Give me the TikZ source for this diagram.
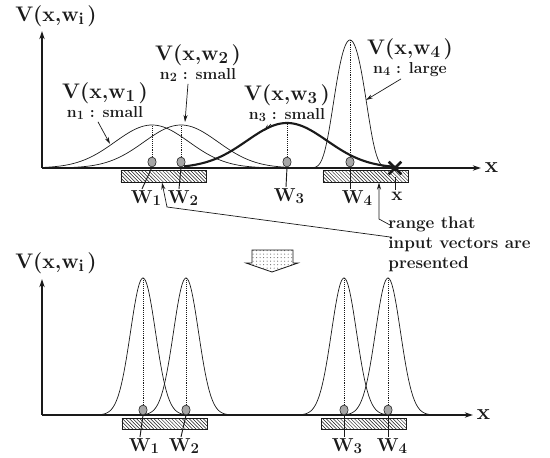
\documentclass[tikz,border=0pt]{standalone}
\usepackage{graphicx}
\usepackage{tikz}
\usetikzlibrary{shapes.geometric, shapes.misc, arrows.meta, positioning, patterns, calc}
\definecolor{inkblack}{HTML}{1a1a1a}
\definecolor{dotgray}{HTML}{a6a6a6}
\definecolor{arrowdots}{HTML}{6e6e6e}
\newcommand{\lowsub}[1]{\raisebox{-0.3ex}{\scalebox{0.8}{#1}}}
\tikzstyle{vlabel} = [font=\fontsize{18}{20}\selectfont\bfseries, text=inkblack, inner sep=1pt]
\tikzstyle{nlabel} = [font=\fontsize{13.5}{15}\selectfont\bfseries, text=inkblack, inner sep=1pt]
\tikzstyle{wlabel} = [font=\fontsize{16}{18}\selectfont\bfseries, text=inkblack, inner sep=1pt]
\tikzstyle{xlabel} = [font=\fontsize{19}{21}\selectfont\bfseries, text=inkblack, inner sep=1pt]
\tikzstyle{rlabel} = [font=\fontsize{14.5}{17}\selectfont\bfseries, text=inkblack, inner sep=1pt, align=left]
\tikzstyle{plotaxis} = [draw=inkblack, line width=1.1pt, -{Stealth[length=7pt, width=4.5pt]}]
\tikzstyle{thincurve} = [draw=inkblack, line width=0.6pt, smooth, samples=90]
\tikzstyle{boldcurve} = [draw=inkblack, line width=1.8pt, smooth, samples=90]
\tikzstyle{wdot} = [ellipse, draw=inkblack, fill=dotgray, minimum width=0.25cm, minimum height=0.3cm,
  inner sep=0pt, line width=0.5pt]
\tikzstyle{peakline} = [draw=inkblack, densely dotted, line width=0.6pt]
\tikzstyle{hatchbox} = [rectangle, draw=inkblack, pattern=north west lines, pattern color=inkblack,
  minimum width=2.55cm, minimum height=0.34cm, inner sep=0pt, line width=0.7pt]
\tikzstyle{crossmark} = [cross out, draw=inkblack, line width=2.2pt, minimum size=0.3cm, inner sep=0pt]
\tikzstyle{arrow} = [draw=inkblack, line width=0.6pt, -{Stealth[length=6pt, width=3.5pt]}]
\tikzstyle{tick} = [draw=inkblack, line width=0.8pt]
\tikzstyle{blockarrow} = [draw=inkblack, line width=0.7pt, pattern=dots, pattern color=arrowdots]

\begin{document}
\begin{tikzpicture}[x=0.03cm, y=-0.03cm]
  \useasboundingbox (0,0) rectangle (550,458);

  % === TOP PANEL: AXES ===
  \coordinate (o1) at (42,168);
  \coordinate (ytop1) at (42,31);
  \coordinate (xend1) at (481,168);
  \draw[plotaxis] (o1) -- (ytop1);
  \draw[plotaxis] (o1) -- (xend1);
  \node (vi1) [vlabel] at (56,16) {V(x,w\lowsub{i}\,)};
  \node (xa1) [xlabel, right=2pt of xend1] {x};

  % === TOP PANEL: CURVES ===
  \draw[thincurve] plot[domain=45:290] (\x,{168-43*exp(-0.5*(abs(\x-152)/37)^2)});
  \draw[thincurve] plot[domain=60:310] (\x,{168-43*exp(-0.5*(abs(\x-181)/37)^2)});
  \draw[boldcurve] plot[domain=184:396] (\x,{168-45*exp(-0.5*(abs(\x-287)/40)^2)});
  \draw[thincurve] plot[domain=300:400] (\x,{168-128*exp(-0.5*(abs(\x-350)/16)^2-(abs(\x-350)/27)^4)});

  % === TOP PANEL: WEIGHTS ===
  \coordinate (p1) at (152,125);
  \coordinate (p2) at (181,125);
  \coordinate (p3) at (287,123);
  \coordinate (p4) at (350,40);
  \node (d1) [wdot] at (152,162) {};
  \node (d2) [wdot] at (181,162) {};
  \node (d3) [wdot] at (287,162) {};
  \node (d4) [wdot] at (350,162) {};
  \draw[peakline] (d1.north) -- (p1);
  \draw[peakline] (d2.north) -- (p2);
  \draw[peakline] (d3.north) -- (p3);
  \draw[peakline] (d4.north) -- (p4);
  \node (xin) [crossmark] at (395,168) {};

  % === TOP PANEL: INPUT RANGES ===
  \node (r1) [hatchbox] at (163.5,176.5) {};
  \node (r2) [hatchbox] at (365.5,176.5) {};

  % === TOP PANEL: WEIGHT LABELS ===
  \node (lw1) [wlabel] at (146,198) {W\lowsub{1}};
  \node (lw2) [wlabel] at (183,198) {W\lowsub{2}};
  \node (lw3) [wlabel] at (289,196) {W\lowsub{3}};
  \node (lw4) [wlabel] at (357,198) {W\lowsub{4}};
  \node (lx) [wlabel] at (397,196) {x};
  \draw[tick] (d1.south) -- ($(lw1.north)+(-4,0)$);
  \draw[tick] (d2.south) -- ($(lw2.north)+(-4,0)$);
  \draw[tick] (d3.south) -- ($(lw3.north)+(-3,0)$);
  \draw[tick] (d4.south) -- ($(lw4.north)+(-7,0)$);
  \draw[tick] ($(xin.south)+(0,3)$) -- ($(lx.north)+(-2,0)$);

  % === TOP PANEL: CURVE LABELS ===
  \node (v1) [vlabel] at (105,93) {V(x,w\lowsub{1}\,)};
  \node (n1) [nlabel, below=0pt of v1] {n\lowsub{1} : small};
  \node (v2) [vlabel] at (198,55) {V(x,w\lowsub{2}\,)};
  \node (n2) [nlabel, below=0pt of v2] {n\lowsub{2} : small};
  \node (v3) [vlabel] at (287,95) {V(x,w\lowsub{3}\,)};
  \node (n3) [nlabel, below=0pt of v3] {n\lowsub{3} : small};
  \node (v4) [vlabel] at (410,49) {V(x,w\lowsub{4}\,)};
  \node (n4) [nlabel, below=0pt of v4] {n\lowsub{4} : large};
  \coordinate (c1) at (110,144);
  \coordinate (c2) at (185,122);
  \coordinate (c3) at (264,131);
  \coordinate (c4) at (366,100);
  \draw[arrow] ($(n1.south)+(-7,1)$) -- (c1);
  \draw[arrow] ($(n2.south)+(-10,1)$) -- (c2);
  \draw[arrow] ($(n3.south)+(-16,1)$) -- (c3);
  \draw[arrow] ($(n4.south)+(-9,1)$) -- (c4);

  % === CALLOUT ===
  \node (rng) [rlabel, anchor=north west] at (387,215)
    {range that\\input vectors are\\presented};
  \coordinate (e1) at (379,219);
  \coordinate (e2) at (167,207);
  \draw[arrow] ($(rng.north west)+(3,10)$) -- (e1) -- (e1 |- r2.south);
  \draw[arrow] ($(rng.north west)+(3,22)$) -- (e2) -- ($(r1.south)+(-1.5,0)$);

  % === TRANSITION ARROW ===
  \draw[blockarrow] (252,250) -- (293,250) -- (293,263) -- (298,263) -- (272,272)
    -- (246,263) -- (252,263) -- cycle;

  % === BOTTOM PANEL: AXES ===
  \coordinate (o2) at (42,415);
  \coordinate (ytop2) at (42,279);
  \coordinate (xend2) at (473,415);
  \draw[plotaxis] (o2) -- (ytop2);
  \draw[plotaxis] (o2) -- (xend2);
  \node (vi2) [vlabel] at (56,263) {V(x,w\lowsub{i}\,)};
  \node (xa2) [xlabel, right=2pt of xend2] {x};

  % === BOTTOM PANEL: CURVES ===
  \draw[thincurve] plot[domain=95:191] (\x,{415-137*exp(-0.5*(abs(\x-143)/12.5)^2)});
  \draw[thincurve] plot[domain=138:234] (\x,{415-137*exp(-0.5*(abs(\x-186)/12.5)^2)});
  \draw[thincurve] plot[domain=296:392] (\x,{415-137*exp(-0.5*(abs(\x-344)/12.5)^2)});
  \draw[thincurve] plot[domain=340:436] (\x,{415-137*exp(-0.5*(abs(\x-388)/12.5)^2)});

  % === BOTTOM PANEL: WEIGHTS ===
  \coordinate (q1) at (143,278);
  \coordinate (q2) at (186,278);
  \coordinate (q3) at (344,278);
  \coordinate (q4) at (388,278);
  \node (bd1) [wdot] at (143,410) {};
  \node (bd2) [wdot] at (186,410) {};
  \node (bd3) [wdot] at (344,410) {};
  \node (bd4) [wdot] at (388,410) {};
  \draw[peakline] (bd1.north) -- (q1);
  \draw[peakline] (bd2.north) -- (q2);
  \draw[peakline] (bd3.north) -- (q3);
  \draw[peakline] (bd4.north) -- (q4);

  % === BOTTOM PANEL: INPUT RANGES ===
  \node (r3) [hatchbox] at (164.5,424) {};
  \node (r4) [hatchbox] at (364,424) {};

  % === BOTTOM PANEL: WEIGHT LABELS ===
  \node (bw1) [wlabel] at (144,446) {W\lowsub{1}};
  \node (bw2) [wlabel] at (184,446) {W\lowsub{2}};
  \node (bw3) [wlabel] at (347,446) {W\lowsub{3}};
  \node (bw4) [wlabel] at (392,446) {W\lowsub{4}};
  \draw[tick] (bd1.south) -- ($(bw1.north)+(-4,0)$);
  \draw[tick] (bd2.south) -- ($(bw2.north)+(-3,0)$);
  \draw[tick] (bd3.south) -- ($(bw3.north)+(-3,0)$);
  \draw[tick] (bd4.south) -- ($(bw4.north)+(-4,0)$);

\end{tikzpicture}
\end{document}
